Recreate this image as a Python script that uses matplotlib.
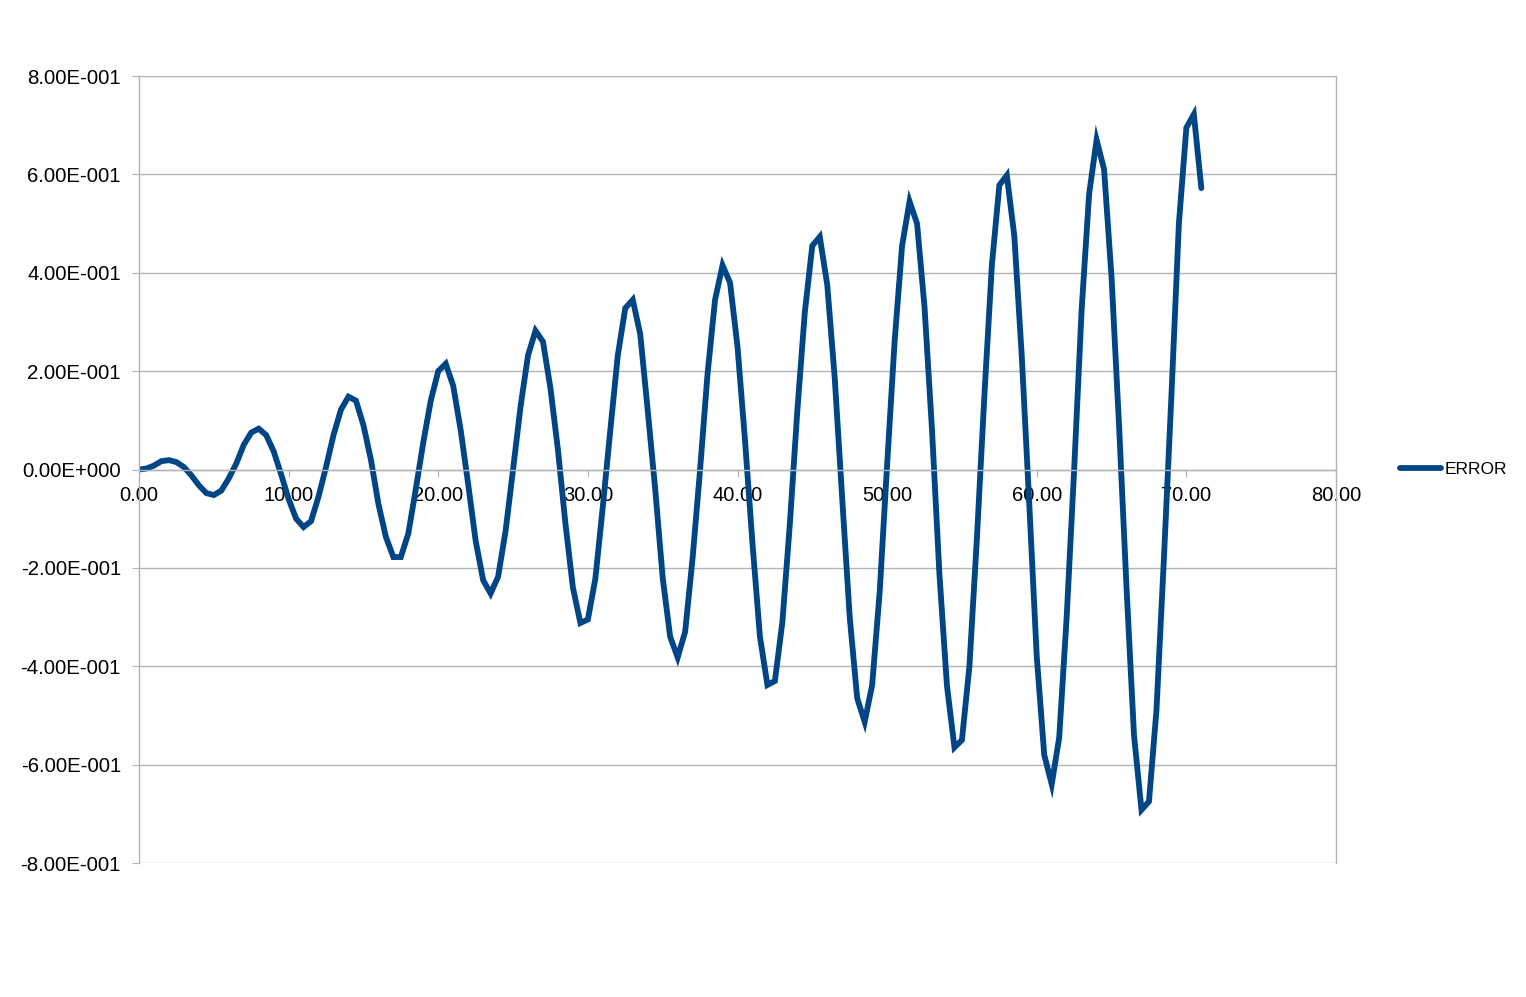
import matplotlib
matplotlib.use("Agg")
import matplotlib.pyplot as plt
from matplotlib.ticker import FuncFormatter, MultipleLocator

plt.rcParams['font.family'] = ['Liberation Sans', 'DejaVu Sans']

x_values = [i * 0.5 for i in range(143)]
error_values = [
    0.000, 0.002, 0.008, 0.017, 0.019, 0.015, 0.005, -0.012, -0.032, -0.048,
    -0.052, -0.043, -0.018, 0.012, 0.050, 0.075, 0.083, 0.070, 0.037, -0.010,
    -0.060, -0.100, -0.117, -0.105, -0.055, 0.005, 0.070, 0.122, 0.148, 0.140,
    0.090, 0.020, -0.070, -0.137, -0.178, -0.178, -0.130, -0.040, 0.055, 0.140,
    0.200, 0.215, 0.170, 0.080, -0.030, -0.145, -0.225, -0.252, -0.218, -0.125,
    0.000, 0.128, 0.232, 0.282, 0.260, 0.165, 0.040, -0.110, -0.240, -0.312,
    -0.305, -0.222, -0.075, 0.080, 0.232, 0.328, 0.345, 0.275, 0.120, -0.040,
    -0.220, -0.340, -0.382, -0.330, -0.180, 0.000, 0.195, 0.345, 0.415, 0.380,
    0.250, 0.060, -0.150, -0.340, -0.438, -0.430, -0.310, -0.110, 0.120, 0.320,
    0.455, 0.473, 0.375, 0.185, -0.060, -0.300, -0.465, -0.513, -0.438, -0.250,
    0.010, 0.260, 0.455, 0.545, 0.500, 0.330, 0.080, -0.215, -0.440, -0.565,
    -0.550, -0.400, -0.140, 0.150, 0.415, 0.578, 0.598, 0.475, 0.230, -0.070,
    -0.380, -0.580, -0.640, -0.545, -0.300, 0.000, 0.325, 0.560, 0.670, 0.610,
    0.390, 0.090, -0.240, -0.540, -0.692, -0.675, -0.490, -0.180, 0.150, 0.500,
    0.695, 0.722, 0.572,
]
series_name = "ERROR"

W, H = 1526, 997
fig = plt.figure(figsize=(W / 100, H / 100), dpi=100)
ax = fig.add_axes([139 / W, 1 - 863 / H, (1336 - 139) / W, (863 - 76) / H])

line, = ax.plot(x_values, error_values, color='#004586', lw=4.2,
                solid_joinstyle='miter', solid_capstyle='round', label=series_name)

ax.set_xlim(0, 80)
ax.set_ylim(-0.8, 0.8)
ax.xaxis.set_major_locator(MultipleLocator(10))
ax.yaxis.set_major_locator(MultipleLocator(0.2))
ax.xaxis.set_major_formatter(FuncFormatter(lambda v, p: f"{v:.2f}"))

def yfmt(v, p):
    if abs(v) < 1e-9:
        return "0.00E+000"
    s = f"{v:.2E}"
    mant, exp = s.split("E")
    e = int(exp)
    sign = "-" if e < 0 else "+"
    return f"{mant}E{sign}{abs(e):03d}"

ax.yaxis.set_major_formatter(FuncFormatter(yfmt))

ax.grid(axis='y', color='#b3b3b3', lw=1.0)
ax.set_axisbelow(True)

ax.spines['top'].set_visible(False)
for s in ['left', 'bottom', 'right']:
    ax.spines[s].set_color('#b3b3b3')
    ax.spines[s].set_linewidth(1.0)
ax.spines['bottom'].set_position(('data', 0))

ax.tick_params(axis='x', direction='out', length=5, color='#b3b3b3', labelsize=14.5, pad=7)
ax.tick_params(axis='y', direction='out', length=5, color='#b3b3b3', labelsize=14.7, pad=8)

ax.legend(loc='center left', bbox_to_anchor=(1.04, 0.5), frameon=False,
          fontsize=12.5, handlelength=2.4, handletextpad=0.2)

fig.savefig("out.png", dpi=100, facecolor='white')
